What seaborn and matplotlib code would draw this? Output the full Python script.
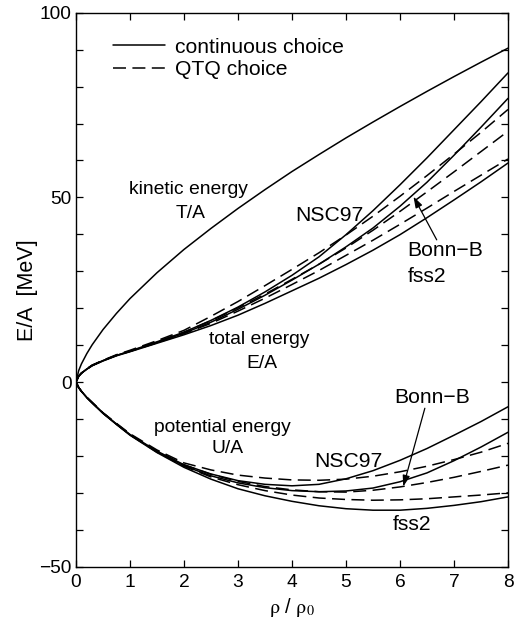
import numpy as np
import pandas as pd
import matplotlib
matplotlib.use("Agg")
import matplotlib.pyplot as plt
from matplotlib.lines import Line2D
from matplotlib.ticker import MultipleLocator
import seaborn as sns

# density grid rho/rho0
rho = [0, 0.05, 0.1, 0.2, 0.3, 0.5, 0.75, 1, 1.5, 2, 2.5, 3, 3.5, 4, 4.5,
       5, 5.5, 6, 6.5, 7, 7.5, 8]

# kinetic energy per nucleon T/A [MeV]
kinetic = [0, 3.1, 4.9, 7.7, 10.1, 14.2, 18.6, 22.6, 29.6, 35.9, 41.6, 47.0,
           52.1, 57.0, 61.6, 66.1, 70.4, 74.6, 78.7, 82.7, 86.6, 90.4]

# total energy per nucleon E/A [MeV]
total_nsc97_cont = [0, 1.6, 2.4, 3.5, 4.5, 5.8, 7.2, 8.4, 10.9, 13.5, 16.7, 20.3,
                    24.4, 28.9, 33.9, 39.9, 46.4, 53.4, 60.7, 68.3, 75.9, 83.7]
total_nsc97_qtq = [0, 1.6, 2.4, 3.6, 4.6, 5.9, 7.4, 8.6, 11.2, 14.0, 17.8, 21.8,
                   26.1, 30.5, 35.0, 39.8, 44.9, 50.3, 55.9, 61.7, 67.6, 73.8]
total_bonnb_cont = [0, 1.6, 2.4, 3.5, 4.5, 5.8, 7.2, 8.3, 10.7, 13.2, 16.2, 19.7,
                    23.5, 27.6, 31.9, 36.6, 41.7, 47.6, 54.1, 61.4, 69.0, 76.8]
total_bonnb_qtq = [0, 1.6, 2.4, 3.5, 4.5, 5.8, 7.3, 8.4, 10.9, 13.5, 16.6, 20.1,
                   23.8, 27.8, 31.9, 36.3, 41.1, 46.2, 51.5, 56.9, 62.4, 67.9]
total_fss2_cont = [0, 1.6, 2.4, 3.5, 4.4, 5.7, 7.1, 8.2, 10.5, 12.8, 15.3, 18.1,
                   21.3, 24.7, 28.1, 31.8, 35.7, 39.9, 44.5, 49.3, 54.2, 59.3]
total_fss2_qtq = [0, 1.6, 2.4, 3.5, 4.5, 5.8, 7.2, 8.3, 10.6, 13.1, 15.9, 19.2,
                  22.7, 26.4, 30.2, 34.3, 38.4, 42.7, 47.1, 51.6, 56.0, 60.4]

# potential energy per nucleon U/A [MeV]
pot_nsc97_cont = [0, -1.5, -2.5, -4.2, -5.6, -8.4, -11.4, -14.2, -18.7, -22.4, -24.9,
                  -26.7, -27.7, -28.1, -27.7, -26.2, -24.0, -21.2, -18.0, -14.4, -10.7, -6.7]
pot_nsc97_qtq = [0, -1.5, -2.5, -4.1, -5.5, -8.3, -11.2, -14.0, -18.4, -21.9, -23.8,
                 -25.2, -26.0, -26.5, -26.6, -26.3, -25.5, -24.3, -22.8, -21.0, -19.0, -16.6]
pot_bonnb_cont = [0, -1.5, -2.5, -4.2, -5.6, -8.4, -11.4, -14.3, -18.9, -22.7, -25.4,
                  -27.3, -28.6, -29.4, -29.7, -29.5, -28.7, -27.0, -24.6, -21.3, -17.6, -13.6]
pot_bonnb_qtq = [0, -1.5, -2.5, -4.2, -5.6, -8.4, -11.3, -14.2, -18.7, -22.4, -25.0,
                 -26.9, -28.3, -29.2, -29.7, -29.8, -29.3, -28.4, -27.2, -25.8, -24.2, -22.5]
pot_fss2_cont = [0, -1.5, -2.5, -4.2, -5.7, -8.5, -11.5, -14.4, -19.1, -23.1, -26.3,
                 -28.9, -30.8, -32.3, -33.5, -34.3, -34.7, -34.7, -34.2, -33.4, -32.4, -31.1]
pot_fss2_qtq = [0, -1.5, -2.5, -4.2, -5.6, -8.4, -11.4, -14.3, -19.0, -22.8, -25.7,
                -27.8, -29.4, -30.6, -31.4, -31.8, -32.0, -31.9, -31.6, -31.1, -30.6, -30.0]

x_ticks = [0, 1, 2, 3, 4, 5, 6, 7, 8]
y_ticks = [-50, 0, 50, 100]
legend_labels = ["continuous choice", "QTQ choice"]

sns.set_theme(style="ticks")
plt.rcParams["font.family"] = ["Liberation Sans", "DejaVu Sans"]
plt.rcParams["mathtext.fontset"] = "stix"
plt.rcParams["axes.unicode_minus"] = True
for key in ("text.color", "axes.labelcolor", "xtick.color", "ytick.color",
            "axes.edgecolor"):
    plt.rcParams[key] = "black"

LW = 1.1
DASH = (0, (8.5, 4.2))

fig = plt.figure(figsize=(5.15, 6.29), dpi=100)
ax = fig.add_axes([76 / 515, 1 - 566.7 / 629, 432 / 515, 554 / 629])

curves = [
    (kinetic, "-"),
    (total_nsc97_cont, "-"), (total_bonnb_cont, "-"), (total_fss2_cont, "-"),
    (total_nsc97_qtq, DASH), (total_bonnb_qtq, DASH), (total_fss2_qtq, DASH),
    (pot_nsc97_cont, "-"), (pot_bonnb_cont, "-"), (pot_fss2_cont, "-"),
    (pot_nsc97_qtq, DASH), (pot_bonnb_qtq, DASH), (pot_fss2_qtq, DASH),
]
for vals, ls in curves:
    sns.lineplot(x=rho, y=vals, ax=ax, color="black", lw=LW, linestyle=ls,
                 legend=False, sort=False)

ax.set_xlim(0, 8)
ax.set_ylim(-50, 100)
ax.set_xticks(x_ticks)
ax.set_yticks(y_ticks)
ax.yaxis.set_minor_locator(MultipleLocator(10))
ax.tick_params(which="both", direction="in", top=True, right=True,
               length=5, width=0.9, labelsize=13.8, color="black",
               labelcolor="black")
ax.tick_params(axis="x", pad=5.5)
ax.tick_params(axis="y", pad=3)
for sp in ax.spines.values():
    sp.set_linewidth(1.0)
    sp.set_color("black")

ax.set_xlabel(r"$\mathrm{\rho}$ / $\mathrm{\rho_0}$", fontsize=14.5, labelpad=3)
ax.set_ylabel("E/A  [MeV]", fontsize=15.5, labelpad=1)

# curve annotations
txt = dict(ha="center", va="center", fontsize=13.9, color="black")
mod = dict(ha="center", va="center", fontsize=15.2, color="black")
ax.text(2.08, 52.0, "kinetic energy", **txt)
ax.text(2.12, 45.5, "T/A", **txt)
ax.text(3.40, 11.6, "total energy", **txt)
ax.text(3.44, 5.1, "E/A", **txt)
ax.text(2.71, -12.2, "potential energy", **txt)
ax.text(2.81, -18.0, "U/A", **txt)

ax.text(4.70, 45.2, "NSC97", **mod)
ax.text(6.83, 35.5, "Bonn\u2212B", **mod)
ax.text(6.51, 28.7, "fss2", **mod)
ax.text(5.04, -21.5, "NSC97", **mod)
ax.text(6.60, -4.1, "Bonn\u2212B", **mod)
ax.text(6.23, -38.7, "fss2", **mod)

arrow = dict(arrowstyle="-|>,head_length=0.55,head_width=0.18", lw=0.9,
             color="black", shrinkA=0, shrinkB=0)
ax.annotate("", xy=(6.25, 50.2), xytext=(6.68, 38.5), arrowprops=arrow)
ax.annotate("", xy=(6.06, -28.3), xytext=(6.46, -7.1), arrowprops=arrow)

handles = [Line2D([], [], color="black", lw=LW, linestyle="-"),
           Line2D([], [], color="black", lw=LW, linestyle=DASH)]
ax.legend(handles, legend_labels, loc="upper left", frameon=False,
          fontsize=15.2, handlelength=2.5, handletextpad=0.45,
          labelspacing=0.15, borderaxespad=0, bbox_to_anchor=(0.065, 0.97))

fig.savefig("out.png", dpi=100, facecolor="white")
